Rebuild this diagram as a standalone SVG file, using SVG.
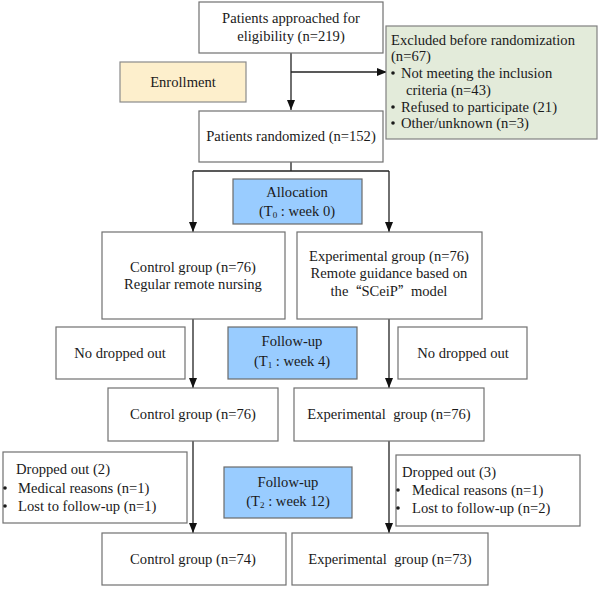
<svg xmlns="http://www.w3.org/2000/svg" width="599" height="590" viewBox="0 0 599 590">
<defs>
<marker id="ah" markerWidth="10" markerHeight="10" refX="10" refY="5" orient="auto" markerUnits="userSpaceOnUse">
<path d="M0,1 L10,5 L0,9 Z" fill="#111"/>
</marker>
<style>
.b{fill:#fff;stroke:#707070;stroke-width:1.2}
.blue{fill:#99ccff;stroke:#6a6a6a;stroke-width:1.2}
.green{fill:#e3ebda;stroke:#808080;stroke-width:1.2}
.yel{fill:#fdefcc;stroke:#8a8a8a;stroke-width:1.2}
text{font-family:"Liberation Serif","Times New Roman",serif;font-size:14.6px;fill:#1a1a1a}
.c{text-anchor:middle}
.l{stroke:#222;stroke-width:1.3;fill:none}
.dot{fill:#1a1a1a}
.q{font-family:"Noto Sans CJK SC",sans-serif;font-size:13px}
</style>
</defs>
<rect width="599" height="590" fill="#fff"/>
<g id="connectors">
<line class="l" x1="291" y1="53" x2="291" y2="110" marker-end="url(#ah)"/>
<line class="l" x1="291" y1="72" x2="387" y2="72" marker-end="url(#ah)"/>
<polyline class="l" points="291,162 291,171"/>
<polyline class="l" points="193,171 389,171"/>
<line class="l" x1="193" y1="171" x2="193" y2="232" marker-end="url(#ah)"/>
<line class="l" x1="389" y1="171" x2="389" y2="232" marker-end="url(#ah)"/>
<line class="l" x1="193" y1="319" x2="193" y2="388" marker-end="url(#ah)"/>
<line class="l" x1="389" y1="319" x2="389" y2="388" marker-end="url(#ah)"/>
<line class="l" x1="193" y1="441" x2="193" y2="533" marker-end="url(#ah)"/>
<line class="l" x1="389" y1="441" x2="389" y2="533" marker-end="url(#ah)"/>
</g>
<g id="approached">
<rect class="b" x="199" y="2" width="184" height="51"/>
<text class="c" x="291" y="23">Patients approached for</text>
<text class="c" x="291" y="41">eligibility (n=219)</text>
</g>
<g id="excluded">
<rect class="green" x="386" y="26" width="211" height="113"/>
<text x="391" y="45">Excluded before randomization</text>
<text x="391" y="61">(n=67)</text>
<circle class="dot" cx="393" cy="73" r="1.8"/>
<text x="401" y="78">Not meeting the inclusion</text>
<text x="406" y="95">criteria (n=43)</text>
<circle class="dot" cx="393" cy="107" r="1.8"/>
<text x="401" y="112">Refused to participate (21)</text>
<circle class="dot" cx="393" cy="123" r="1.8"/>
<text x="401" y="128">Other/unknown (n=3)</text>
</g>
<g id="enrollment">
<rect class="yel" x="120" y="62" width="126" height="40"/>
<text class="c" x="183" y="87">Enrollment</text>
</g>
<g id="randomized">
<rect class="b" x="199" y="111" width="184" height="51"/>
<text class="c" x="291" y="141">Patients randomized (n=152)</text>
</g>
<g id="allocation">
<rect class="blue" x="233" y="179" width="129" height="45"/>
<text class="c" x="297" y="197">Allocation</text>
<text class="c" x="297" y="216">(T<tspan font-size="9" dy="2">0</tspan><tspan dy="-2"> : week 0)</tspan></text>
</g>
<g id="control1">
<rect class="b" x="102" y="232" width="183" height="87"/>
<text class="c" x="193" y="272">Control group (n=76)</text>
<text class="c" x="193" y="289">Regular remote nursing</text>
</g>
<g id="exp1">
<rect class="b" x="297" y="232" width="185" height="87"/>
<text class="c" x="389" y="261">Experimental group (n=76)</text>
<text class="c" x="389" y="278">Remote guidance based on</text>
<text class="c" x="389" y="296">the<tspan class="q">“</tspan>SCeiP<tspan class="q">”</tspan>model</text>
</g>
<g id="nodrop1">
<rect class="b" x="56" y="327" width="129" height="52"/>
<text class="c" x="120" y="358">No dropped out</text>
</g>
<g id="followup1">
<rect class="blue" x="228" y="327" width="129" height="52"/>
<text class="c" x="292" y="346">Follow-up</text>
<text class="c" x="292" y="366">(T<tspan font-size="9" dy="2">1</tspan><tspan dy="-2"> : week 4)</tspan></text>
</g>
<g id="nodrop2">
<rect class="b" x="398" y="327" width="129" height="52"/>
<text class="c" x="463" y="358">No dropped out</text>
</g>
<g id="control2">
<rect class="b" x="108" y="388" width="170" height="53"/>
<text class="c" x="193" y="419">Control group (n=76)</text>
</g>
<g id="exp2">
<rect class="b" x="294" y="388" width="190" height="53"/>
<text class="c" x="389" y="419" xml:space="preserve">Experimental  group (n=76)</text>
</g>
<g id="drop2">
<rect class="b" x="3" y="452" width="184" height="71"/>
<text x="16" y="474">Dropped out (2)</text>
<circle class="dot" cx="5" cy="488" r="1.8"/>
<text x="18" y="493">Medical reasons (n=1)</text>
<circle class="dot" cx="5" cy="506" r="1.8"/>
<text x="18" y="511">Lost to follow-up (n=1)</text>
</g>
<g id="followup2">
<rect class="blue" x="224" y="467" width="128" height="51"/>
<text class="c" x="288" y="487">Follow-up</text>
<text class="c" x="288" y="506">(T<tspan font-size="9" dy="2">2</tspan><tspan dy="-2"> : week 12)</tspan></text>
</g>
<g id="drop3">
<rect class="b" x="396" y="455" width="184" height="71"/>
<text x="402" y="477">Dropped out (3)</text>
<circle class="dot" cx="398" cy="490" r="1.8"/>
<text x="412" y="495">Medical reasons (n=1)</text>
<circle class="dot" cx="398" cy="508" r="1.8"/>
<text x="412" y="513">Lost to follow-up (n=2)</text>
</g>
<g id="control3">
<rect class="b" x="102" y="533" width="184" height="52"/>
<text class="c" x="193" y="564">Control group (n=74)</text>
</g>
<g id="exp3">
<rect class="b" x="292" y="533" width="196" height="52"/>
<text class="c" x="390" y="564" xml:space="preserve">Experimental  group (n=73)</text>
</g>
</svg>
